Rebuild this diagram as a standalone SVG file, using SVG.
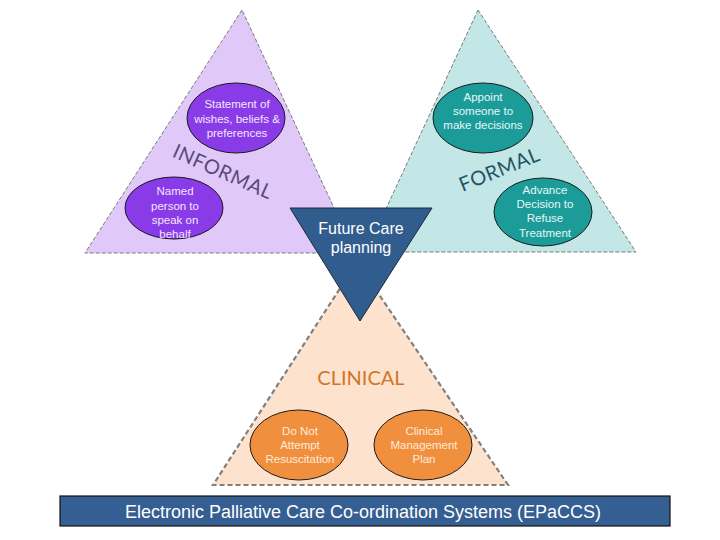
<svg xmlns="http://www.w3.org/2000/svg" width="720" height="540" viewBox="0 0 720 540">
<style>
.tri{stroke:#7a7a7a;stroke-width:1;stroke-dasharray:4 2}
.tri2{stroke:#808080;stroke-width:2.2;stroke-dasharray:5 3}
.el{stroke:#1a1a1a;stroke-width:1}
.t{font-family:"Liberation Sans",Arial,sans-serif;font-size:11.5px;text-anchor:middle}
.lab{font-family:Lato,"Open Sans",sans-serif;font-size:20px;text-anchor:middle}
</style>
<rect width="720" height="540" fill="#ffffff"/>
<g id="informal">
<polygon class="tri" points="242,10 85,253 355,253" fill="#e0c9f9"/>
<text class="lab" fill="#5a4a7c" transform="translate(220,178) rotate(24)" letter-spacing="0.5">INFORMAL</text>
</g>
<g id="formal">
<polygon class="tri" points="478,10 366,252 636,252" fill="#c3e6e6"/>
<text class="lab" fill="#1f5566" transform="translate(502,176) rotate(-22)" letter-spacing="0.5">FORMAL</text>
</g>
<g id="clinical">
<polygon class="tri2" points="357,262 213,485 508,485" fill="#fde3cd"/>
<text class="lab" fill="#d2752a" x="361" y="385" font-size="18">CLINICAL</text>
</g>
<g id="statement">
<ellipse class="el" cx="236" cy="118" rx="49" ry="35" fill="#8a3be8"/>
<text class="t" fill="#f3e6ff"><tspan x="237" y="108">Statement of</tspan><tspan x="237" y="123">wishes, beliefs &amp;</tspan><tspan x="237" y="137">preferences</tspan></text>
</g>
<g id="named">
<ellipse class="el" cx="174" cy="208" rx="49" ry="31" fill="#8a3be8"/>
<text class="t" fill="#f3e6ff"><tspan x="175" y="195">Named</tspan><tspan x="175" y="210">person to</tspan><tspan x="175" y="224">speak on</tspan><tspan x="175" y="238">behalf</tspan></text>
</g>
<g id="appoint">
<ellipse class="el" cx="483" cy="118" rx="50" ry="35" fill="#1b9c99"/>
<text class="t" fill="#e6f7f7"><tspan x="483" y="101">Appoint</tspan><tspan x="483" y="115">someone to</tspan><tspan x="483" y="129">make decisions</tspan></text>
</g>
<g id="advance">
<ellipse class="el" cx="543" cy="212" rx="49" ry="34" fill="#1b9c99"/>
<text class="t" fill="#e6f7f7"><tspan x="545" y="194">Advance</tspan><tspan x="545" y="208">Decision to</tspan><tspan x="545" y="222">Refuse</tspan><tspan x="545" y="237">Treatment</tspan></text>
</g>
<g id="future">
<polygon points="290,208 432,208 360,321" fill="#315d8e" stroke="#1a2a40" stroke-width="1"/>
<text fill="#ffffff" font-family="'Liberation Sans',Arial,sans-serif" font-size="16" text-anchor="middle"><tspan x="361" y="234">Future Care</tspan><tspan x="361" y="253">planning</tspan></text>
</g>
<g id="dnar">
<ellipse class="el" cx="299" cy="445" rx="49" ry="35" fill="#f0903e"/>
<text class="t" fill="#ffeadb"><tspan x="300" y="435">Do Not</tspan><tspan x="300" y="449">Attempt</tspan><tspan x="300" y="463">Resuscitation</tspan></text>
</g>
<g id="cmp">
<ellipse class="el" cx="423" cy="445" rx="49" ry="35" fill="#f0903e"/>
<text class="t" fill="#ffeadb"><tspan x="424" y="435">Clinical</tspan><tspan x="424" y="449">Management</tspan><tspan x="424" y="463">Plan</tspan></text>
</g>
<g id="epaccs">
<rect x="60" y="496" width="610" height="30" fill="#355e92" stroke="#111" stroke-width="1.2"/>
<text x="363" y="518" fill="#ffffff" font-family="'Liberation Sans',Arial,sans-serif" font-size="18" text-anchor="middle">Electronic Palliative Care Co-ordination Systems (EPaCCS)</text>
</g>
<g id="connectors"></g>
</svg>
